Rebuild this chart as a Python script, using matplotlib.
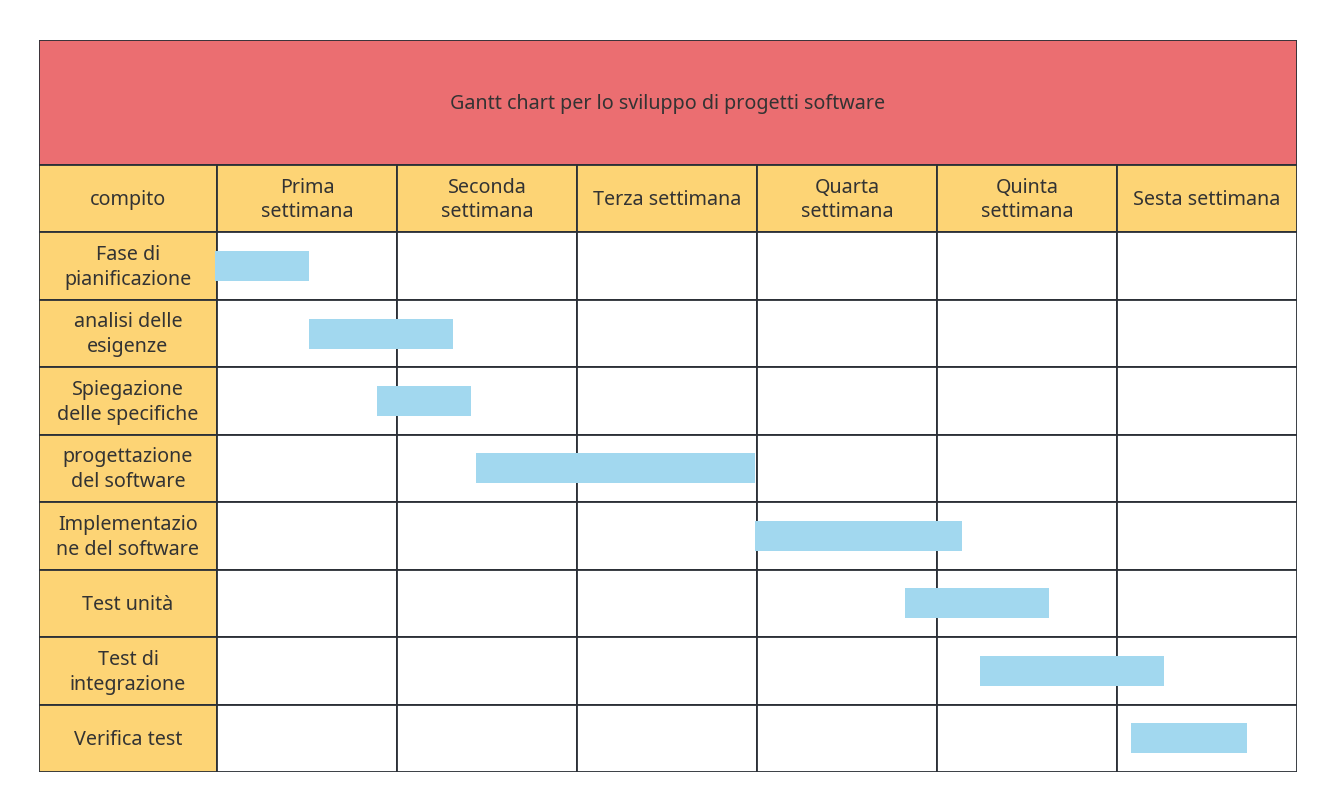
import matplotlib.pyplot as plt
from matplotlib.patches import Rectangle

plt.rcParams['font.family'] = ['Noto Sans', 'DejaVu Sans']

title = 'Gantt chart per lo sviluppo di progetti software'
first_header = 'compito'
weeks = ['Prima\nsettimana', 'Seconda\nsettimana', 'Terza settimana',
         'Quarta\nsettimana', 'Quinta\nsettimana', 'Sesta settimana']
tasks = ['Fase di\npianificazione', 'analisi delle\nesigenze',
         'Spiegazione\ndelle specifiche', 'progettazione\ndel software',
         'Implementazio\nne del software', 'Test unità',
         'Test di\nintegrazione', 'Verifica test']
# start and end of each task, in weeks from the start of week 1
start = [-0.01, 0.51, 0.89, 1.44, 2.99, 3.82, 4.24, 5.08]
end = [0.51, 1.31, 1.41, 2.99, 4.14, 4.62, 5.26, 5.72]

red = '#eb6e71'
yellow = '#fdd475'
blue = '#a2d8ef'
line = '#2b2f36'
txt = '#333333'
fs = 14.2
ls = 1.32

W, H = 1332, 808
fig = plt.figure(figsize=(W / 100, H / 100), dpi=100)
ax = fig.add_axes([39 / W, (H - 772) / H, (1297 - 39) / W, (772 - 40) / H])

label_w = 178 / 180  # width of the task column, in weeks
title_h = 125 / 67.5  # height of the title band, in rows
n = len(weeks)
m = len(tasks)
ax.set_xlim(-label_w, n)
ax.set_ylim(m, -1 - title_h)
ax.axis('off')

# title band
ax.add_patch(Rectangle((-label_w, -1 - title_h), label_w + n, title_h,
                       facecolor=red, edgecolor=line, lw=1.3))
ax.text((n - label_w) / 2, -1 - title_h / 2 + 0.02, title, ha='center', va='center',
        fontsize=fs, color=txt)

# header row
ax.add_patch(Rectangle((-label_w, -1), label_w, 1, facecolor=yellow,
                       edgecolor=line, lw=1.3))
ax.text(-label_w / 2, -0.5 + 0.02, first_header, ha='center', va='center',
        fontsize=fs, color=txt)
for j, w in enumerate(weeks):
    ax.add_patch(Rectangle((j, -1), 1, 1, facecolor=yellow, edgecolor=line, lw=1.3))
    ax.text(j + 0.5, -0.5 + 0.02, w, ha='center', va='center', fontsize=fs,
            color=txt, linespacing=ls)

# task rows
for i, t in enumerate(tasks):
    ax.add_patch(Rectangle((-label_w, i), label_w, 1, facecolor=yellow,
                           edgecolor=line, lw=1.3))
    ax.text(-label_w / 2, i + 0.52, t, ha='center', va='center', fontsize=fs,
            color=txt, linespacing=ls)
    for j in range(n):
        ax.add_patch(Rectangle((j, i), 1, 1, facecolor='white', edgecolor=line,
                               lw=1.3, zorder=1))

# gantt bars
bar_h = 30 / 67.5
for i in range(m):
    ax.add_patch(Rectangle((start[i], i + 0.5 - bar_h / 2), end[i] - start[i], bar_h,
                           facecolor=blue, edgecolor='none', zorder=3))

fig.savefig('out.png', dpi=100, facecolor='white')
